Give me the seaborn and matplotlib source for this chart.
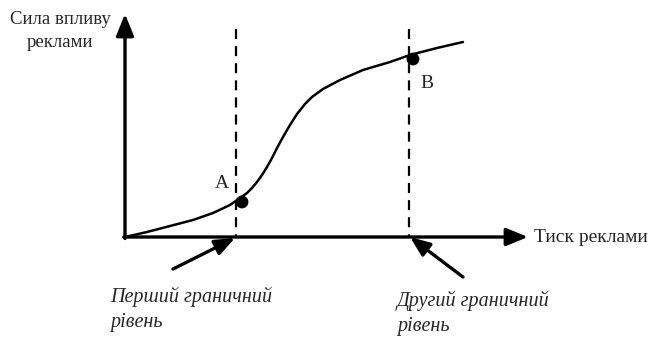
import matplotlib
matplotlib.use("Agg")
import matplotlib.pyplot as plt
import seaborn as sns
import pandas as pd

# Curve (schematic S-curve; pixel-like units, y grows downward)
curve_x = [125, 147, 170, 193, 213, 230, 240, 247, 252, 257, 262, 267, 272, 277, 283, 290,
           297, 305, 312, 323, 340, 363, 390, 410, 437, 463]
curve_y = [237, 232, 226, 220, 213, 205, 198, 193, 188, 182, 175, 167, 158, 148, 137, 125,
           114, 104, 97, 89, 80, 70, 62, 55, 48, 42]

point_labels = ["A", "B"]
point_x = [242, 413]
point_y = [202, 59]

threshold_x = [236, 409]
threshold_labels = ["Перший граничний\nрівень", "Другий граничний\nрівень"]

y_axis_title = "Сила впливу\nреклами"
x_axis_title = "Тиск реклами"

sns.set_theme(style="white")
plt.rcParams['font.family'] = ['Liberation Serif', 'DejaVu Serif']

fig = plt.figure(figsize=(6.49, 3.40), dpi=100)
ax = fig.add_axes([0, 0, 1, 1])

# axes arrows
ax.annotate("", xy=(125, 14), xytext=(125, 238.5),
            arrowprops=dict(arrowstyle="-|>,head_length=1.1,head_width=0.45", lw=2.4,
                            color="black", shrinkA=0, shrinkB=0), zorder=3)
ax.annotate("", xy=(528, 237), xytext=(123.8, 237),
            arrowprops=dict(arrowstyle="-|>,head_length=1.1,head_width=0.45", lw=2.4,
                            color="black", shrinkA=0, shrinkB=0), zorder=3)

# dashed threshold lines
for tx in threshold_x:
    ax.plot([tx, tx], [29, 237], color="black", lw=1.6, dashes=(4.5, 3.2), zorder=2)

# curve
df = pd.DataFrame({"x": curve_x, "y": curve_y})
sns.lineplot(data=df, x="x", y="y", ax=ax, color="black", lw=1.8, sort=False, zorder=4,
             solid_joinstyle="round", solid_capstyle="round")

# points
pts = pd.DataFrame({"x": point_x, "y": point_y, "lab": point_labels})
sns.scatterplot(data=pts, x="x", y="y", ax=ax, color="black", s=85, edgecolor="none", zorder=5)

ax.set_xlim(0, 649)
ax.set_ylim(340, 0)
ax.set_xlabel("")
ax.set_ylabel("")
ax.axis("off")

ax.text(222, 183, point_labels[0], fontsize=14, ha="center", va="center")
ax.text(427, 83, point_labels[1], fontsize=14, ha="center", va="center")

# axis titles
ax.text(60, 31, y_axis_title, fontsize=13.5, ha="center", va="center", linespacing=1.45)
ax.text(534, 237, x_axis_title, fontsize=14, ha="left", va="center")

# pointer arrows
ax.annotate("", xy=(235, 238), xytext=(173, 269),
            arrowprops=dict(arrowstyle="-|>,head_length=1.0,head_width=0.4", lw=2.4,
                            color="black", shrinkA=0, shrinkB=0))
ax.annotate("", xy=(410, 237), xytext=(463, 277),
            arrowprops=dict(arrowstyle="-|>,head_length=1.0,head_width=0.4", lw=2.4,
                            color="black", shrinkA=0, shrinkB=0))

ax.text(110, 309, threshold_labels[0], fontsize=14.5, style="italic", ha="left", va="center",
        linespacing=1.45)
ax.text(397, 313, threshold_labels[1], fontsize=14.5, style="italic", ha="left", va="center",
        linespacing=1.45)

fig.savefig("out.png", dpi=100, facecolor="white")
